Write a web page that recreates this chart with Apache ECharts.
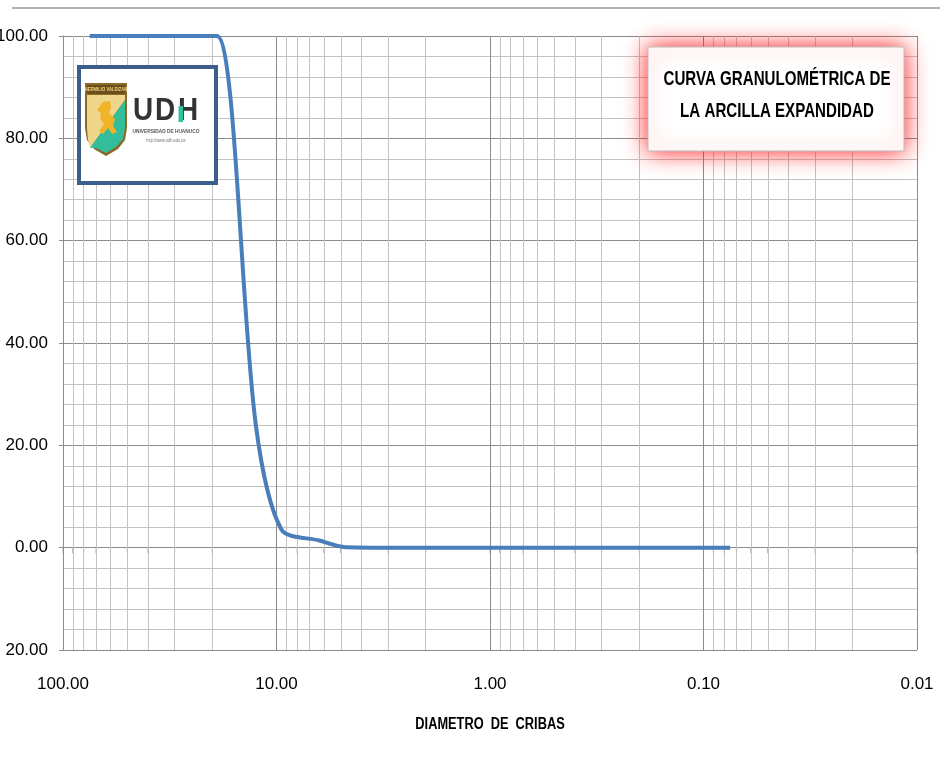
<!DOCTYPE html>
<html>
<head>
<meta charset="utf-8">
<script src="https://cdn.jsdelivr.net/npm/echarts@6/dist/echarts.min.js"></script>
<style>html,body{margin:0;padding:0;background:#fff}#c{width:940px;height:760px}</style>
</head>
<body>
<div id="c"></div>
<script>
// ---- data ----
const diameters = [75, 50, 37.5, 25, 19, 12.5, 9.5, 6.3, 4.75, 2.36, 1.18, 0.6, 0.3, 0.15, 0.075];
const passing   = [100, 100, 100, 100, 100, 24, 3.6, 1.4, 0.1, 0, 0, 0, 0, 0, 0];
const xDecades  = [0.01, 0.1, 1, 10, 100];
const yTicks    = [-20, 0, 20, 40, 60, 80, 100];
const titleLines = ['CURVA GRANULOMÉTRICA DE', 'LA ARCILLA EXPANDIDAD'];
const xAxisTitle = 'DIAMETRO  DE  CRIBAS';

const FONT = "'Liberation Sans Narrow', 'Liberation Sans', Arial, sans-serif";

// minor vertical grid values (2..9 within each decade)
const minorX = [];
for (let d = 0; d < xDecades.length - 1; d++) {
  for (let m = 2; m <= 9; m++) minorX.push(+(xDecades[d] * m).toPrecision(3));
}
const tickX = xDecades.concat(minorX);

const chart = echarts.init(document.getElementById('c'), null, {renderer: 'canvas'});

const option = {
  backgroundColor: '#ffffff',
  animation: false,
  grid: {left: 63, right: 23, top: 36, bottom: 110, containLabel: false, outerBoundsMode: 'none'},
  xAxis: {
    type: 'log',
    logBase: 10,
    min: 0.01,
    max: 100,
    inverse: true,
    axisLine: {show: false},
    axisTick: {show: false},
    axisLabel: {
      margin: 26,
      color: '#000',
      fontFamily: FONT,
      fontSize: 17,
      formatter: v => (+v).toFixed(2)
    },
    splitLine: {show: true, lineStyle: {color: '#8c8c8c', width: 1}}
  },
  yAxis: {
    type: 'value',
    min: -20,
    max: 100,
    interval: 20,
    axisLine: {show: true, lineStyle: {color: '#8c8c8c', width: 1}},
    axisTick: {show: true, length: 4, lineStyle: {color: '#8c8c8c'}},
    axisLabel: {
      margin: 15,
      color: '#000',
      fontFamily: FONT,
      fontSize: 17,
      formatter: v => Math.abs(v).toFixed(2)
    },
    splitLine: {show: true, lineStyle: {color: '#8c8c8c', width: 1}},
    minorTick: {show: false, splitNumber: 5},
    minorSplitLine: {show: true, lineStyle: {color: '#c3c3c3', width: 1}}
  },
  series: [
    {
      type: 'scatter',
      z: 1,
      silent: true,
      symbol: 'rect',
      symbolSize: [1, 5],
      symbolOffset: [0, 3],
      itemStyle: {color: '#8c8c8c'},
      data: tickX.map(v => [v, 0]),
      markLine: {
        silent: true,
        symbol: ['none', 'none'],
        label: {show: false},
        lineStyle: {color: '#c3c3c3', width: 1, type: 'solid'},
        data: minorX.map(v => ({xAxis: v}))
      }
    },
    {
      type: 'line',
      z: 5,
      data: diameters.map((d, i) => [d, passing[i]]),
      smooth: 0.3,
      showSymbol: false,
      symbol: 'none',
      clip: true,
      lineStyle: {color: '#4A7EBB', width: 4}
    }
  ],
  graphic: [
    {type: 'line', z: 10, shape: {x1: 12, y1: 8, x2: 940, y2: 8}, style: {stroke: '#999999', lineWidth: 1.5}},
    // x axis title
    {type: 'text', z: 10, x: 490, y: 725, scaleX: 0.8,
     style: {text: xAxisTitle, font: "bold 16px 'Liberation Sans', Arial, sans-serif", fill: '#000', textAlign: 'center', textVerticalAlign: 'middle'}},
    // title box with red glow
    {type: 'rect', z: 20, shape: {x: 648, y: 47, width: 256, height: 104},
     style: {fill: '#ffffff', stroke: '#bdbdbd', lineWidth: 1, shadowBlur: 22, shadowColor: 'rgba(255,20,20,0.95)'}},
    {type: 'text', z: 21, x: 777, y: 79, scaleX: 0.72,
     style: {text: titleLines[0], font: "bold 21px 'Liberation Sans', Arial, sans-serif", fill: '#000', textAlign: 'center', textVerticalAlign: 'middle'}},
    {type: 'text', z: 21, x: 777, y: 111, scaleX: 0.72,
     style: {text: titleLines[1], font: "bold 21px 'Liberation Sans', Arial, sans-serif", fill: '#000', textAlign: 'center', textVerticalAlign: 'middle'}},
    // logo box
    {type: 'rect', z: 20, shape: {x: 79, y: 67, width: 137, height: 116},
     style: {fill: '#ffffff', stroke: '#3B5E8C', lineWidth: 4}},
    // shield
    {type: 'polygon', z: 21, shape: {points: [[85,83],[127,83],[127,128],[125,140],[118,149],[106,156],[94,149],[87,140],[85,128]]},
     style: {fill: '#8A6A28'}},
    {type: 'polygon', z: 22, shape: {points: [[87,95],[125,95],[125,100],[90,148],[88,140],[87,128]]},
     style: {fill: '#EFD68A'}},
    {type: 'polygon', z: 22, shape: {points: [[125,100],[125,128],[123,139],[116,147],[106,153],[96,148],[90,148]]},
     style: {fill: '#33BE9B'}},
    {type: 'rect', z: 22, shape: {x: 87, y: 85, width: 38, height: 9}, style: {fill: '#6B4E1C'}},
    {type: 'text', z: 23, x: 106, y: 89.5, scaleX: 0.7,
     style: {text: 'HERMILIO VALDIZAN', font: "bold 6px 'Liberation Sans', sans-serif", fill: '#F2D37A', textAlign: 'center', textVerticalAlign: 'middle'}},
    {type: 'polygon', z: 23, shape: {points: [[103,102],[110,101],[111,107],[109,113],[115,119],[113,126],[117,132],[112,134],[108,128],[103,134],[99,131],[104,124],[100,119],[101,113],[97,110]]},
     style: {fill: '#F1B428'}},
    // UDH wordmark
    {type: 'text', z: 21, x: 143, y: 111, scaleX: 0.9,
     style: {text: 'U', font: "bold 31px 'Liberation Sans', Arial, sans-serif", fill: '#333333', textAlign: 'center', textVerticalAlign: 'middle'}},
    {type: 'text', z: 21, x: 165, y: 111, scaleX: 0.9,
     style: {text: 'D', font: "bold 31px 'Liberation Sans', Arial, sans-serif", fill: '#333333', textAlign: 'center', textVerticalAlign: 'middle'}},
    {type: 'text', z: 21, x: 188, y: 111, scaleX: 0.9,
     style: {text: 'H', font: "bold 31px 'Liberation Sans', Arial, sans-serif", fill: '#333333', textAlign: 'center', textVerticalAlign: 'middle'}},
    {type: 'rect', z: 22, shape: {x: 178.5, y: 106, width: 4.5, height: 16}, style: {fill: '#2EC4A0'}},
    {type: 'text', z: 21, x: 166, y: 131, scaleX: 0.8,
     style: {text: 'UNIVERSIDAD DE HUANUCO', font: "bold 6px 'Liberation Sans', Arial, sans-serif", fill: '#555555', textAlign: 'center', textVerticalAlign: 'middle'}},
    {type: 'text', z: 21, x: 166, y: 141, scaleX: 0.8,
     style: {text: 'http://www.udh.edu.pe', font: "5px 'Liberation Sans', Arial, sans-serif", fill: '#777777', textAlign: 'center', textVerticalAlign: 'middle'}}
  ]
};
chart.setOption(option);
</script>
</body>
</html>
